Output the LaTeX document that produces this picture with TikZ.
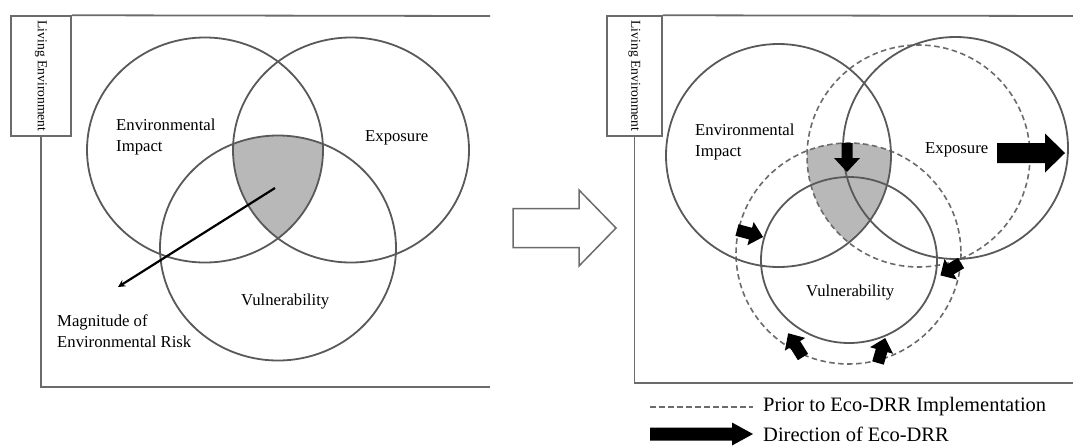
\documentclass[tikz,border=0pt]{standalone}
\usepackage{fontspec}
\setmainfont{Liberation Serif}
\usetikzlibrary{shapes,arrows,positioning,calc}

\definecolor{ringgray}{gray}{0.35}
\definecolor{framegray}{gray}{0.42}
\definecolor{riskfill}{gray}{0.72}

\tikzset{
  pics/fatarrow/.style args={#1/#2/#3/#4}{code={
    \fill[black] (0,-#2) -- ({#1-#4},-#2) -- ({#1-#4},-#3) -- (#1,0) -- ({#1-#4},#3) -- ({#1-#4},#2) -- (0,#2) -- cycle;
  }},
  pics/hollowarrow/.style args={#1/#2/#3/#4}{code={
    \draw[framegray, line width=1.5pt, fill=white] (0,-#2) -- ({#1-#4},-#2) -- ({#1-#4},-#3) -- (#1,0) -- ({#1-#4},#3) -- ({#1-#4},#2) -- (0,#2) -- cycle;
  }},
}

\begin{document}
\begin{tikzpicture}[x=1pt, y=-1pt,
    ring/.style={draw=ringgray, line width=1.8pt},
    prior/.style={draw=framegray, line width=1.6pt, dash pattern=on 5.5pt off 3.5pt},
    panelframe/.style={draw=framegray, line width=1.8pt},
    envbox/.style={draw=framegray, line width=1.5pt, rotate=-90, minimum width=120pt, inner sep=0pt, font=\fontsize{13.6}{16}\selectfont},
    venntext/.style={inner sep=0pt, align=left, anchor=west, font=\fontsize{16.7}{21}\selectfont},
    legendtext/.style={inner sep=0pt, anchor=west, font=\fontsize{20.5}{24}\selectfont}
]
    \useasboundingbox (0,0) rectangle (1073,445);

    % Before: living environment frame
    \node[envbox, minimum height=60pt] (envA) at (41,76) {Living Environment};
    \draw[panelframe] (envA.east) |- (490,387);
    \draw[panelframe] (envA.north west) -- (490,16);

    % Before: three sets
    \coordinate (eiA) at (205,150);
    \coordinate (exA) at (351,150);
    \coordinate (vuA) at (278,248);
    \begin{scope}
        \clip (eiA) ellipse [x radius=118, y radius=112.5];
        \clip (exA) ellipse [x radius=118, y radius=112.5];
        \fill[riskfill] (vuA) ellipse [x radius=118, y radius=112.5];
    \end{scope}
    \foreach \c in {eiA,exA,vuA}
        \draw[ring] (\c) ellipse [x radius=118, y radius=112.5];

    \node[venntext] (eiLabA) at (116,136.5) {Environmental\\Impact};
    \node[venntext] (exLabA) at (365,138) {Exposure};
    \node[venntext] (vuLabA) at (241,302) {Vulnerability};
    \node[venntext] (riskLab) at (57,331) {Magnitude of\\Environmental Risk};

    % Magnitude of risk
    \coordinate (riskCore) at (275,188);
    \coordinate (riskTip) at (118,287);
    \draw[->, >=stealth, line width=2.2pt] (riskCore) -- (riskTip);

    % Transition
    \pic (change) at (513,228) {hollowarrow=103/19.5/38/37};

    % After: living environment frame
    \node[envbox, minimum height=55pt] (envB) at (634.5,76) {Living Environment};
    \draw[panelframe] (envB.east) |- (1073,383);
    \draw[panelframe] (envB.north west) -- (1073,16);

    % After: sets, prior ones dashed
    \coordinate (eiB) at (778.5,155.5);
    \coordinate (exB) at (955.5,148);
    \coordinate (exP) at (918.5,156);
    \coordinate (vuB) at (849,260);
    \coordinate (vuP) at (848.5,253.5);
    \begin{scope}
        \clip (eiB) ellipse [x radius=112.5, y radius=111.5];
        \clip (exP) ellipse [x radius=111.5, y radius=111];
        \fill[riskfill] (vuP) ellipse [x radius=112.5, y radius=110.5];
    \end{scope}
    \draw[prior] (exP) ellipse [x radius=111.5, y radius=111];
    \draw[prior] (vuP) ellipse [x radius=112.5, y radius=110.5];
    \draw[ring] (eiB) ellipse [x radius=112.5, y radius=111.5];
    \draw[ring] (exB) ellipse [x radius=112.5, y radius=111];
    \draw[ring] (vuB) ellipse [x radius=88, y radius=83];

    \node[venntext] (eiLabB) at (695,141.5) {Environmental\\Impact};
    \node[venntext] (exLabB) at (925,150) {Exposure};
    \node[venntext] (vuLabB) at (806,293) {Vulnerability};

    % Direction of Eco-DRR
    \pic (shiftEI) [rotate=-90] at (847,143) {fatarrow=29/5.5/13/14};
    \pic (shiftEx) at (997,153) {fatarrow=68/10/19.5/20};
    \pic (shrinkW) [rotate=-15] at (737,230) {fatarrow=27/6/12/13};
    \pic (shrinkE) [rotate=211] at (961,263) {fatarrow=24/6/12/12};
    \pic (shrinkSW) [rotate=122] at (803,357) {fatarrow=28/6/12/13};
    \pic (shrinkSE) [rotate=74] at (878,363) {fatarrow=26/6/12/13};

    % Legend
    \coordinate (priorKey) at (650,407);
    \coordinate (priorEnd) at (753,407);
    \draw[prior] (priorKey) -- (priorEnd);
    \node[legendtext, right=10pt of priorEnd] (priorText) {Prior to Eco-DRR Implementation};
    \coordinate (dirKey) at (650,434);
    \coordinate (dirEnd) at (753,434);
    \pic (dirArrow) at (dirKey) {fatarrow=103/6.5/11.5/21};
    \node[legendtext, right=10pt of dirEnd] (dirText) {Direction of Eco-DRR};

\end{tikzpicture}
\end{document}
